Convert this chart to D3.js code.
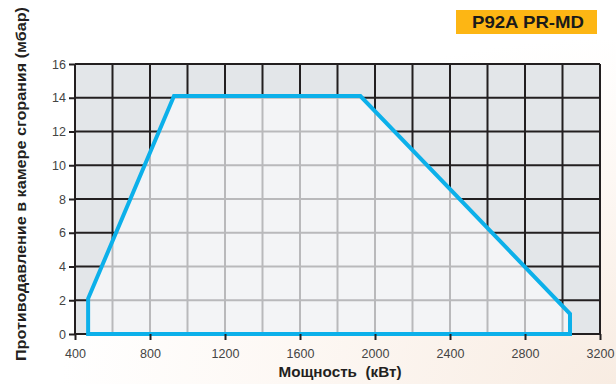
<!DOCTYPE html>
<html><head><meta charset="utf-8">
<script src="https://cdn.jsdelivr.net/npm/d3@7"></script>
<style>
body{margin:0;background:#fff;}
svg{display:block;font-family:"Liberation Sans",Arial,Helvetica,sans-serif;}
</style></head>
<body>
<svg id="c" width="616" height="384"></svg>
<script>
const title = "P92A PR-MD";
const xTitle = "Мощность  (кВт)";
const yTitle = "Противодавление в камере сгорания (мбар)";
const xTicks = [400, 800, 1200, 1600, 2000, 2400, 2800, 3200];
const yTicks = [0, 2, 4, 6, 8, 10, 12, 14, 16];
const xGrid = d3.range(400, 3201, 200);
const yGrid = d3.range(0, 17, 2);
// working-field envelope (power kW, pressure mbar)
const powerKW = [470, 470, 928, 1922, 3040, 3040, 470];
const pressureMbar = [0, 2.1, 14.1, 14.1, 1.2, 0, 0];

const svg = d3.select("#c");
const defs = svg.append("defs");
const rg = defs.append("radialGradient").attr("id","bg").attr("cx","1").attr("cy","1").attr("r","0.9");
rg.append("stop").attr("offset","0").attr("stop-color","#f8ece2");
rg.append("stop").attr("offset","0.6").attr("stop-color","#fdf8f4");
rg.append("stop").attr("offset","1").attr("stop-color","#ffffff");
svg.append("rect").attr("width",616).attr("height",384).attr("fill","url(#bg)");

const x = d3.scaleLinear().domain([400, 3200]).range([75, 600]);
const y = d3.scaleLinear().domain([0, 16]).range([334, 64]);

// plot background
svg.append("rect").attr("x", x(400)).attr("y", y(16))
  .attr("width", x(3200)-x(400)).attr("height", y(0)-y(16)).attr("fill", "#e3e6e9");

const pts = powerKW.map((p,i)=>[x(p), y(pressureMbar[i])]);
const line = d3.line();
defs.append("clipPath").attr("id","inside").append("path").attr("d", line(pts)+"Z");

// dark grid everywhere
const g = svg.append("g");
g.selectAll(".vx").data(xGrid).enter().append("line")
  .attr("x1", d=>x(d)).attr("x2", d=>x(d)).attr("y1", y(0)).attr("y2", y(16))
  .attr("stroke","#231f20").attr("stroke-width",2);
g.selectAll(".hy").data(yGrid).enter().append("line")
  .attr("y1", d=>y(d)).attr("y2", d=>y(d)).attr("x1", x(400)).attr("x2", x(3200))
  .attr("stroke","#231f20").attr("stroke-width",2);

// inside area
const gi = svg.append("g").attr("clip-path","url(#inside)");
gi.append("path").attr("d", line(pts)+"Z").attr("fill","#f3f4f6");
gi.selectAll(".vx").data(xGrid).enter().append("line")
  .attr("x1", d=>x(d)).attr("x2", d=>x(d)).attr("y1", y(0)).attr("y2", y(16))
  .attr("stroke","#b9b9bb").attr("stroke-width",2);
gi.selectAll(".hy").data(yGrid).enter().append("line")
  .attr("y1", d=>y(d)).attr("y2", d=>y(d)).attr("x1", x(400)).attr("x2", x(3200))
  .attr("stroke","#b9b9bb").attr("stroke-width",2);

// envelope outline
svg.append("path").attr("d", line(pts)+"Z").attr("fill","none")
  .attr("stroke","#0cb0ea").attr("stroke-width",4).attr("stroke-linejoin","miter");

// axes
const xAxis = d3.axisBottom(x).tickValues(xTicks).tickSize(6).tickPadding(5).tickFormat(d3.format("d"));
const yAxis = d3.axisLeft(y).tickValues(yTicks).tickSize(6).tickPadding(3).tickFormat(d3.format("d"));
const ax = svg.append("g").attr("transform",`translate(0,${y(0)})`).call(xAxis);
const ay = svg.append("g").attr("transform",`translate(${x(400)},0)`).call(yAxis);
[ax, ay].forEach(a=>{
  a.select(".domain").remove();
  a.selectAll(".tick line").attr("stroke","#231f20").attr("stroke-width",2);
  a.selectAll(".tick text").attr("fill","#444").style("font-size","12.5px")
   .style("font-family","'Liberation Sans',Arial,sans-serif");
});
ax.selectAll(".tick text").attr("dy","1.05em");

// axis titles
svg.append("text").attr("x", 340).attr("y", 377).attr("text-anchor","middle")
  .attr("font-weight","bold").attr("font-size",15).attr("fill","#231f20")
  .attr("textLength",123).attr("lengthAdjust","spacingAndGlyphs")
  .attr("xml:space","preserve").text(xTitle);
svg.append("text").attr("transform","translate(26,184) rotate(-90)").attr("text-anchor","middle")
  .attr("font-weight","bold").attr("font-size",15).attr("fill","#231f20")
  .attr("textLength",354).attr("lengthAdjust","spacingAndGlyphs").text(yTitle);

// title badge
svg.append("rect").attr("x",456).attr("y",10).attr("width",141).attr("height",24).attr("fill","#fdb614");
svg.append("text").attr("x",528).attr("y",28).attr("text-anchor","middle")
  .attr("font-weight","bold").attr("font-size",17).attr("fill","#1a1a1a")
  .attr("textLength",112).attr("lengthAdjust","spacingAndGlyphs").text(title);
</script>
</body></html>
